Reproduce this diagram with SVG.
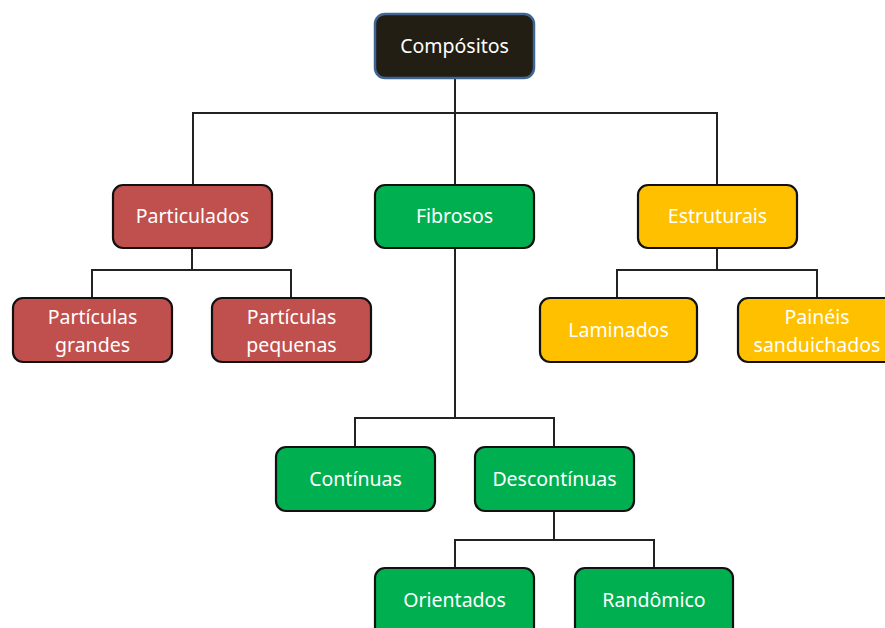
<svg xmlns="http://www.w3.org/2000/svg" width="885" height="628" viewBox="0 0 885 628">
<style>
.box{stroke:#111;stroke-width:2.2}
.t{font-family:"Noto Sans","Open Sans",sans-serif;font-size:19.5px;fill:#fff;text-anchor:middle}
.c{fill:none;stroke:#222;stroke-width:2}
.r{fill:#c0504d}.g{fill:#00b050}.y{fill:#ffc000}
</style>
<rect width="885" height="628" fill="#fff"/>
<g id="connectors" class="c">
<path d="M455 78V113M193 185V113H717V185M455 113V185"/>
<path d="M192 248V270M92 298V270H291V298"/>
<path d="M717 248V270M617 298V270H817V298"/>
<path d="M455 248V418M355 447V418H554V447"/>
<path d="M554 511V540M455 568V540H654V568"/>
</g>
<g id="compositos"><rect x="375" y="14" width="159" height="64" rx="10" fill="#221e14" stroke="#3f6592" stroke-width="2.5"/><text class="t" x="454.5" y="53">Compósitos</text></g>
<g id="particulados"><rect class="box r" x="113" y="185" width="159" height="63" rx="10"/><text class="t" x="192.5" y="223">Particulados</text></g>
<g id="fibrosos"><rect class="box g" x="375" y="185" width="159" height="63" rx="10"/><text class="t" x="454.5" y="223">Fibrosos</text></g>
<g id="estruturais"><rect class="box y" x="638" y="185" width="159" height="63" rx="10"/><text class="t" x="717.5" y="223">Estruturais</text></g>
<g id="particulas-grandes"><rect class="box r" x="13" y="298" width="159" height="64" rx="10"/><text class="t" x="92.5" y="324">Partículas</text><text class="t" x="92.5" y="352">grandes</text></g>
<g id="particulas-pequenas"><rect class="box r" x="212" y="298" width="159" height="64" rx="10"/><text class="t" x="291.5" y="324">Partículas</text><text class="t" x="291.5" y="352">pequenas</text></g>
<g id="laminados"><rect class="box y" x="540" y="298" width="157" height="64" rx="10"/><text class="t" x="618.5" y="337">Laminados</text></g>
<g id="paineis"><rect class="box y" x="738" y="298" width="159" height="64" rx="10"/><text class="t" x="817" y="324">Painéis</text><text class="t" x="817" y="352">sanduichados</text></g>
<g id="continuas"><rect class="box g" x="276" y="447" width="159" height="64" rx="10"/><text class="t" x="355.5" y="486">Contínuas</text></g>
<g id="descontinuas"><rect class="box g" x="475" y="447" width="159" height="64" rx="10"/><text class="t" x="554.5" y="486">Descontínuas</text></g>
<g id="orientados"><rect class="box g" x="375" y="568" width="159" height="70" rx="10"/><text class="t" x="454.5" y="607">Orientados</text></g>
<g id="randomico"><rect class="box g" x="575" y="568" width="158" height="70" rx="10"/><text class="t" x="654" y="607">Randômico</text></g>
</svg>
